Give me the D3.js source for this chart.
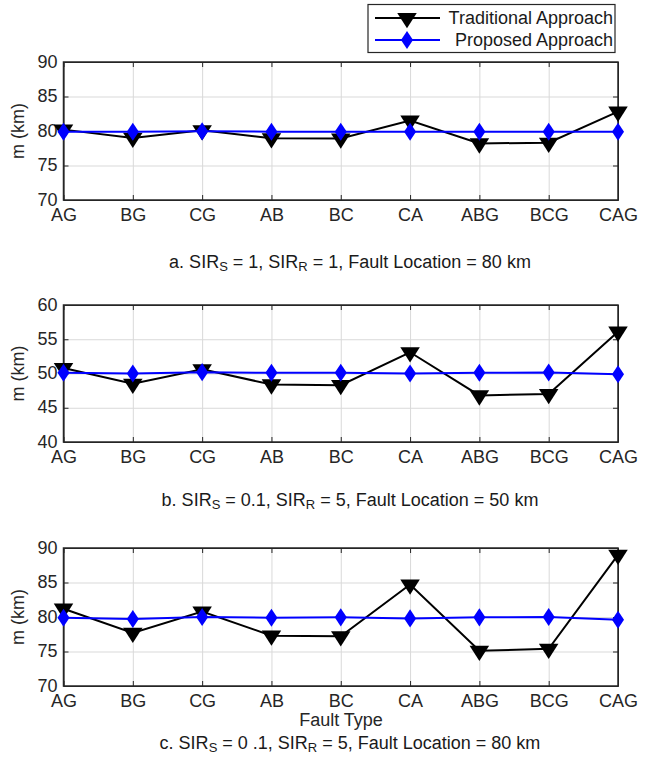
<!DOCTYPE html>
<meta charset="UTF-8">
<style>
    body { margin: 0; background: #fff; }
    svg { font-family: "Liberation Sans", Arial, sans-serif; }
    .grid line { stroke: #d9d9d9; stroke-width: 1px; }
    .grid path { display: none; }
    .axis text { font-size: 18px; fill: #262626; }
    .axis path, .axis line { stroke: #262626; }
</style>
<body>
<script src="https://d3js.org/d3.v7.min.js"></script>
<script>

// fault types on the x axis
var faultTypes = ["AG", "BG", "CG", "AB", "BC", "CA", "ABG", "BCG", "CAG"];

// panel a: SIRs = 1, SIRr = 1, fault at 80 km
var tradA = [80.2, 79.0, 80.1, 78.95, 78.9, 81.5, 78.2, 78.3, 82.8];
var propA = [79.9, 79.9, 79.95, 79.9, 79.9, 79.9, 79.9, 79.9, 79.9];
var ticksA = [70, 75, 80, 85, 90];

// panel b: SIRs = 0.1, SIRr = 5, fault at 50 km
var tradB = [50.8, 48.5, 50.6, 48.4, 48.3, 53.1, 46.8, 47.0, 56.1];
var propB = [50.1, 50.0, 50.2, 50.1, 50.1, 50.0, 50.1, 50.15, 49.9];
var ticksB = [40, 45, 50, 55, 60];

// panel c: SIRs = 0.1, SIRr = 5, fault at 80 km
var tradC = [81.2, 77.7, 80.8, 77.3, 77.2, 84.7, 75.1, 75.4, 89.0];
var propC = [79.9, 79.7, 80.0, 79.9, 79.95, 79.8, 79.95, 80.0, 79.6];
var ticksC = [70, 75, 80, 85, 90];

var panels = [
    {trad: tradA, prop: propA, ticks: ticksA, top: 62, bottom: 200,
     caption: ["a. SIR", "S", " = 1, SIR", "R", " = 1, Fault Location = 80 km"], capY: 268, xlabel: false},
    {trad: tradB, prop: propB, ticks: ticksB, top: 305, bottom: 442,
     caption: ["b. SIR", "S", " = 0.1, SIR", "R", " = 5, Fault Location = 50 km"], capY: 506, xlabel: false},
    {trad: tradC, prop: propC, ticks: ticksC, top: 548, bottom: 686,
     caption: ["c. SIR", "S", " = 0 .1, SIR", "R", " = 5, Fault Location = 80 km"], capY: 749, xlabel: true}
];

var left = 63.5, right = 618;

var svg = d3.select("body").append("svg")
    .attr("width", 652)
    .attr("height", 757);

var x = d3.scalePoint().domain(faultTypes).range([left, right]);

var tri = d3.symbol().type(d3.symbolTriangle).size(150);
var dia = d3.symbol().type(d3.symbolDiamond2).size(145);
var triT = " rotate(180) scale(1.05,0.95)", diaT = " scale(0.8,1.2)";

panels.forEach(function(p) {
    var y = d3.scaleLinear()
        .domain([p.ticks[0], p.ticks[p.ticks.length - 1]])
        .range([p.bottom, p.top]);
    var h = p.bottom - p.top, w = right - left;

    // grid
    svg.append("g").attr("class", "grid")
        .attr("transform", "translate(0," + p.bottom + ")")
        .call(d3.axisBottom(x).tickSize(-h).tickFormat(""));
    svg.append("g").attr("class", "grid")
        .attr("transform", "translate(" + left + ",0)")
        .call(d3.axisLeft(y).tickValues(p.ticks).tickSize(-w).tickFormat(""));

    // axes with inward ticks
    svg.append("g").attr("class", "axis")
        .attr("transform", "translate(0," + p.bottom + ")")
        .call(d3.axisBottom(x).tickSize(-5).tickSizeOuter(0).tickPadding(8))
        .selectAll("text").attr("dy", "0.71em");
    svg.append("g").attr("class", "axis")
        .attr("transform", "translate(0," + p.top + ")")
        .call(d3.axisTop(x).tickSize(-5).tickSizeOuter(0).tickFormat(""));
    svg.append("g").attr("class", "axis")
        .attr("transform", "translate(" + left + ",0)")
        .call(d3.axisLeft(y).tickValues(p.ticks).tickSize(-5).tickSizeOuter(0).tickPadding(6))
        .selectAll("text").attr("dy", "0.28em");
    svg.append("g").attr("class", "axis")
        .attr("transform", "translate(" + right + ",0)")
        .call(d3.axisRight(y).tickValues(p.ticks).tickSize(-5).tickSizeOuter(0).tickFormat(""));
    svg.append("rect")
        .attr("x", left).attr("y", p.top).attr("width", w).attr("height", h)
        .attr("fill", "none").attr("stroke", "#262626").attr("stroke-width", 1.5);

    // y label
    svg.append("text")
        .attr("transform", "translate(24," + (p.top + h / 2) + ") rotate(-90)")
        .attr("text-anchor", "middle")
        .style("font-size", "18px").attr("fill", "#262626")
        .text("m (km)");

    var line = d3.line()
        .x(function(d, i) { return x(faultTypes[i]); })
        .y(function(d) { return y(d); });

    // traditional approach
    svg.append("path").datum(p.trad)
        .attr("d", line).attr("fill", "none")
        .attr("stroke", "black").attr("stroke-width", 2);
    svg.selectAll(null).data(p.trad).enter().append("path")
        .attr("d", tri)
        .attr("transform", function(d, i) {
            return "translate(" + x(faultTypes[i]) + "," + y(d) + ")" + triT;
        })
        .attr("fill", "black");

    // proposed approach
    svg.append("path").datum(p.prop)
        .attr("d", line).attr("fill", "none")
        .attr("stroke", "#0000ff").attr("stroke-width", 2);
    svg.selectAll(null).data(p.prop).enter().append("path")
        .attr("d", dia)
        .attr("transform", function(d, i) {
            return "translate(" + x(faultTypes[i]) + "," + y(d) + ")" + diaT;
        })
        .attr("fill", "#0000ff");

    // caption with subscripts
    var cap = svg.append("text")
        .attr("x", 350).attr("y", p.capY)
        .attr("text-anchor", "middle")
        .style("font-size", "18px").attr("fill", "#1a1a1a");
    p.caption.forEach(function(s, i) {
        var ts = cap.append("tspan").text(s);
        if (i % 2 == 1) ts.attr("dy", 3).style("font-size", "13px");
        else if (i > 0) ts.attr("dy", -3);
    });

    if (p.xlabel) {
        svg.append("text")
            .attr("x", 341).attr("y", p.bottom + 40)
            .attr("text-anchor", "middle")
            .style("font-size", "18px").attr("fill", "#262626")
            .text("Fault Type");
    }
});

// legend
var leg = svg.append("g");
leg.append("rect")
    .attr("x", 368).attr("y", 4.5).attr("width", 247).attr("height", 48)
    .attr("fill", "white").attr("stroke", "#262626").attr("stroke-width", 1.2);

var legItems = [
    {name: "Traditional Approach", color: "black", y: 18, marker: "tri"},
    {name: "Proposed Approach", color: "#0000ff", y: 40, marker: "dia"}
];
legItems.forEach(function(d) {
    leg.append("line")
        .attr("x1", 375).attr("x2", 440).attr("y1", d.y).attr("y2", d.y)
        .attr("stroke", d.color).attr("stroke-width", 2);
    leg.append("path")
        .attr("d", d.marker == "tri" ? tri : dia)
        .attr("transform", "translate(407," + d.y + ")" + (d.marker == "tri" ? triT : diaT))
        .attr("fill", d.color);
    leg.append("text")
        .attr("x", 613).attr("y", d.y).attr("dy", "0.35em")
        .attr("text-anchor", "end")
        .style("font-size", "18px").attr("fill", "#1a1a1a")
        .text(d.name);
});

</script>
</body>
